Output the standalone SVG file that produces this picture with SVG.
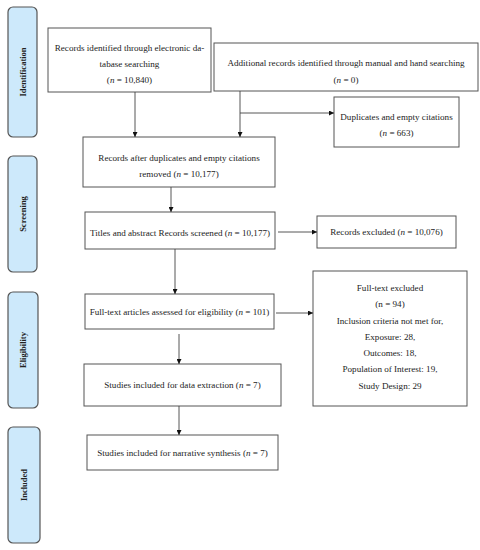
<svg xmlns="http://www.w3.org/2000/svg" width="480" height="550" viewBox="0 0 480 550">
<defs>
<marker id="ah" viewBox="0 0 10 10" refX="10" refY="5" markerWidth="5" markerHeight="5" orient="auto" markerUnits="userSpaceOnUse">
<path d="M0,0 L10,5 L0,10 z" fill="#111"/>
</marker>
</defs>
<style>
.phase{fill:#cde9fb;stroke:#555;stroke-width:1.2}
.plabel{font-family:"Liberation Serif",serif;font-size:8.5px;font-weight:bold;fill:#222;text-anchor:middle}
.box{fill:#fff;stroke:#555;stroke-width:1}
.t{font-family:"Liberation Serif",serif;font-size:9.1px;fill:#222;text-anchor:middle}
.c{stroke:#444;stroke-width:0.9;fill:none;marker-end:url(#ah)}
</style>
<rect width="480" height="550" fill="#fff"/>
<g id="phase-identification"><rect class="phase" x="8" y="7" width="29" height="130" rx="5"/><text class="plabel" transform="translate(25.5,72) rotate(-90)">Identification</text></g>
<g id="phase-screening"><rect class="phase" x="8" y="156" width="29" height="116" rx="5"/><text class="plabel" transform="translate(25.5,214) rotate(-90)">Screening</text></g>
<g id="phase-eligibility"><rect class="phase" x="8" y="292" width="30" height="116" rx="5"/><text class="plabel" transform="translate(26,350) rotate(-90)">Eligibility</text></g>
<g id="phase-included"><rect class="phase" x="8" y="427" width="32" height="116" rx="5"/><text class="plabel" transform="translate(27,485) rotate(-90)">Included</text></g>

<g id="n-db"><rect class="box" x="48" y="28" width="163" height="64"/>
<text class="t" x="129.5" y="51">Records identified through electronic da-</text>
<text class="t" x="129.5" y="67">tabase searching</text>
<text class="t" x="129.5" y="83">(<tspan font-style="italic">n</tspan> = 10,840)</text></g>
<g id="n-manual"><rect class="box" x="214" y="43" width="264" height="48"/>
<text class="t" x="346" y="66">Additional records identified through manual and hand searching</text>
<text class="t" x="346" y="83">(<tspan font-style="italic">n</tspan> = 0)</text></g>
<g id="n-dup"><rect class="box" x="334" y="97" width="125" height="50"/>
<text class="t" x="396.5" y="120">Duplicates and empty citations</text>
<text class="t" x="396.5" y="136">(<tspan font-style="italic">n</tspan> = 663)</text></g>
<g id="n-after"><rect class="box" x="83" y="137" width="192" height="50"/>
<text class="t" x="179" y="161">Records after duplicates and empty citations</text>
<text class="t" x="179" y="177">removed  (<tspan font-style="italic">n</tspan> = 10,177)</text></g>
<g id="n-screened"><rect class="box" x="85" y="212" width="190" height="37"/>
<text class="t" x="180" y="236">Titles and abstract Records screened (<tspan font-style="italic">n</tspan> = 10,177)</text></g>
<g id="n-excl"><rect class="box" x="317" y="216" width="139" height="32"/>
<text class="t" x="386.5" y="235">Records excluded (<tspan font-style="italic">n</tspan> = 10,076)</text></g>
<g id="n-fulltext"><rect class="box" x="85" y="294" width="189" height="35"/>
<text class="t" x="179.5" y="315">Full-text articles assessed for eligibility (<tspan font-style="italic">n</tspan> = 101)</text></g>
<g id="n-ftexcl"><rect class="box" x="313" y="271" width="154" height="135"/>
<text class="t" x="390" y="291">Full-text excluded</text>
<text class="t" x="390" y="307">(n = 94)</text>
<text class="t" x="390" y="324">Inclusion criteria not met for,</text>
<text class="t" x="390" y="340">Exposure: 28,</text>
<text class="t" x="390" y="356">Outcomes: 18,</text>
<text class="t" x="390" y="372">Population of Interest: 19,</text>
<text class="t" x="390" y="389">Study Design: 29</text></g>
<g id="n-extract"><rect class="box" x="84" y="364" width="197" height="42"/>
<text class="t" x="182.5" y="388">Studies included for data extraction (<tspan font-style="italic">n</tspan> = 7)</text></g>
<g id="n-synth"><rect class="box" x="87" y="435" width="191" height="35"/>
<text class="t" x="182.5" y="456">Studies included for narrative synthesis (<tspan font-style="italic">n</tspan> = 7)</text></g>

<g id="connectors">
<line class="c" x1="135" y1="92" x2="135" y2="137"/>
<line class="c" x1="240" y1="91" x2="240" y2="137"/>
<line class="c" x1="240" y1="113" x2="334" y2="113"/>
<line class="c" x1="171" y1="187" x2="171" y2="212"/>
<line class="c" x1="175" y1="249" x2="175" y2="294"/>
<line class="c" x1="278" y1="232" x2="317" y2="232"/>
<line class="c" x1="276" y1="313" x2="313" y2="313"/>
<line class="c" x1="179" y1="334" x2="179" y2="364"/>
<line class="c" x1="179" y1="406" x2="179" y2="435"/>
</g>
</svg>
